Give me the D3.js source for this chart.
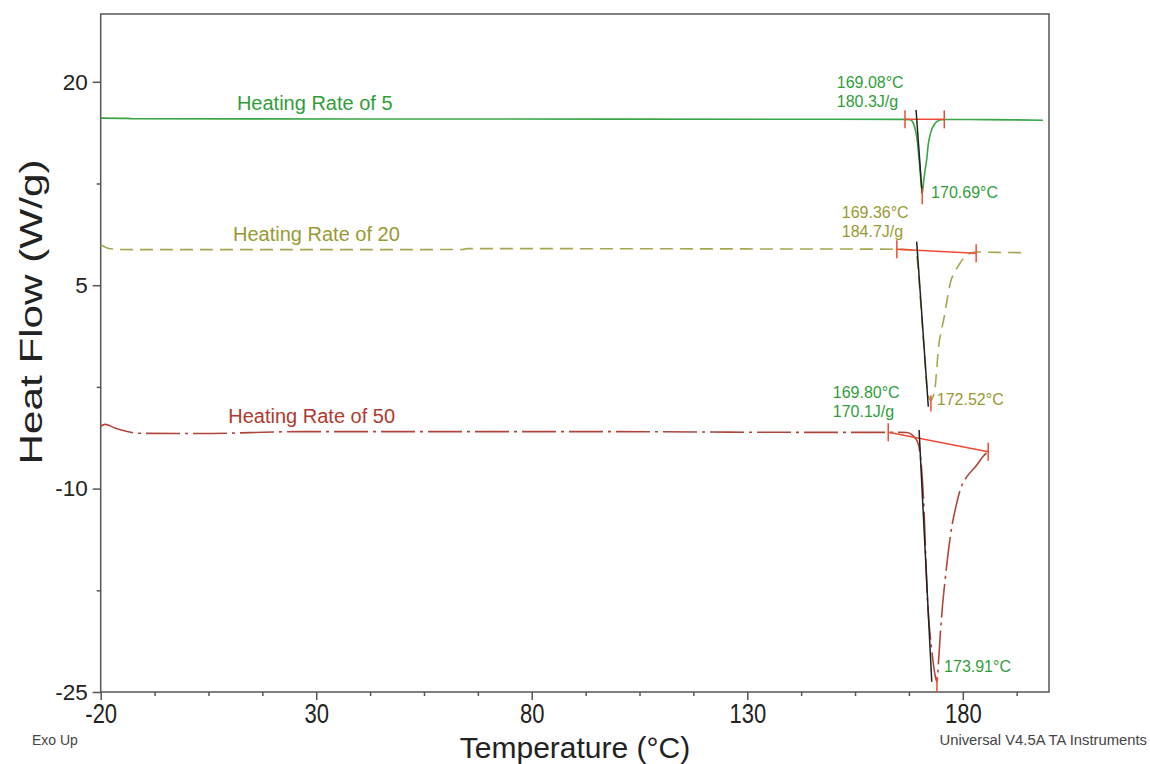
<!DOCTYPE html>
<html>
<head>
<meta charset="utf-8">
<script src="https://cdn.jsdelivr.net/npm/d3@7"></script>
<style>
    body { margin: 0; background: #fff; }
    text { font-family: "Liberation Sans", Arial, sans-serif; }
</style>
</head>
<body>
<svg id="chart"></svg>
<script>
// DSC curves: [temperature °C, heat flow W/g]
const rate5 = [
    [-20, 17.32], [-14, 17.30], [-12, 17.27], [40, 17.26], [100, 17.25], [150, 17.24],
    [166, 17.23], [167.8, 17.2], [168.6, 16.9], [169.1, 16.3], [169.5, 15.5], [170.0, 13.8],
    [170.4, 12.3], [170.6, 11.78], [170.9, 12.6], [171.3, 13.6], [171.6, 14.2], [172.0, 15.4],
    [172.6, 16.3], [173.6, 16.94], [174.7, 17.18], [176, 17.22], [185, 17.21], [198.6, 17.17]
]
const rate20 = [
    [-20, 7.96], [-18.5, 7.75], [-16, 7.64], [-10, 7.62], [20, 7.62], [64, 7.63], [65, 7.7],
    [100, 7.69], [140, 7.67], [160, 7.66], [166, 7.64], [168, 7.6], [168.8, 7.45], [169.3, 7.2],
    [169.8, 5.5], [170.3, 3.4], [170.8, 1.2], [171.3, -1.0], [171.8, -2.8], [172.3, -3.4],
    [172.6, -3.5], [173.0, -3.3], [173.6, -2.48], [174.0, -1.0], [174.3, 0.22], [175.0, 1.6],
    [175.7, 2.68], [176.4, 4.0], [177.1, 5.16], [178.2, 6.0], [179.4, 6.64], [180.9, 7.23],
    [183.1, 7.45], [188, 7.42], [194.8, 7.4]
]
const rate50 = [
    [-20, -5.38], [-19.0, -5.26], [-16.7, -5.53], [-10.9, -5.92], [3, -5.94], [26.2, -5.8],
    [95.9, -5.8], [142.3, -5.85], [162.7, -5.85], [167.0, -5.86], [168.3, -6.05], [169.6, -6.64],
    [170.9, -10.84], [171.8, -18.2], [172.8, -21.9], [173.6, -23.8], [174.0, -24.24],
    [174.4, -22.6], [174.8, -20.65], [175.3, -18.6], [175.9, -16.74], [176.7, -14.5],
    [177.6, -12.54], [178.5, -11.2], [179.4, -10.1], [181.0, -9.1], [182.9, -8.41],
    [184.8, -7.6], [185.5, -7.36]
]

// analysis marks per curve: onset tangent, integration limits, peak
const onsetLines = [
    [[169.16, 17.92], [170.55, 11.8]],
    [[169.3, 8.21], [172.0, -3.96]],
    [[169.86, -5.68], [172.8, -24.24]]
]
const limitLines = [
    [[166.6, 17.23], [175.7, 17.23]],
    [[164.7, 7.65], [183.1, 7.35]],
    [[162.7, -5.85], [185.9, -7.28]]
]
const peaks = [[170.6, 11.78], [172.6, -3.5], [174.0, -24.24]]

const seriesNames = ['Heating Rate of 5', 'Heating Rate of 20', 'Heating Rate of 50']
const nameAt = [[11.6, 17.92], [10.7, 8.26], [9.6, -5.18]]
const onsetText = [['169.08°C', '180.3J/g'], ['169.36°C', '184.7J/g'], ['169.80°C', '170.1J/g']]
const onsetAt = [[150.77, 19.54], [151.93, 9.93], [149.84, -3.34]]
const peakText = ['170.69°C', '172.52°C', '173.91°C']
const peakAt = [[172.65, 11.41], [173.97, -3.83], [175.66, -23.54]]

const xMajor = [-20, 30, 80, 130, 180]
const yMajor = [20, 5, -10, -25]

const W = 1150, H = 764
const m = { left: 100.7, right: 101, top: 14, bottom: 72 }

const svg = d3.select('#chart').attr('width', W).attr('height', H)

const x = d3.scaleLinear().domain([-20, 200]).range([m.left, W - m.right])
const y = d3.scaleLinear().domain([-25, 25]).range([H - m.bottom, m.top])

const curveColor = ['#3aa545', '#a6a650', '#b0453c']
const textColor = ['#2f9e3a', '#999933', '#b03a30']
const annoColor = ['#2f9e3a', '#999933', '#2f9e3a']
const peakColor = ['#2f9e3a', '#999933', '#2f9e3a']
const dashes = [null, '13,7', '34,5,3,5']

// frame
svg.append('rect')
    .attr('x', x(-20)).attr('y', y(25))
    .attr('width', x(200) - x(-20)).attr('height', y(-25) - y(25))
    .attr('fill', 'none').attr('stroke', '#555').attr('stroke-width', 1.5)

// axes
const xAxis = d3.axisBottom(x)
    .tickValues(d3.range(-20, 200, 12.5))
    .tickSizeOuter(0)
    .tickFormat(d => xMajor.includes(d) ? d : '')
const gx = svg.append('g').attr('transform', `translate(0,${y(-25)})`).call(xAxis)
gx.select('.domain').remove()
gx.selectAll('.tick line')
    .attr('y2', d => xMajor.includes(d) ? 8 : 4)
    .attr('stroke', '#555').attr('stroke-width', 1.5)
gx.selectAll('.tick text')
    .attr('font-size', 22).attr('fill', '#222')
    .attr('y', 8.7)
    .attr('transform', 'scale(1,1.27)')

const yAxis = d3.axisLeft(y)
    .tickValues(d3.range(-25, 25, 7.5))
    .tickSizeOuter(0)
    .tickFormat(d => yMajor.includes(d) ? d : '')
const gy = svg.append('g').attr('transform', `translate(${x(-20)},0)`).call(yAxis)
gy.select('.domain').remove()
gy.selectAll('.tick line')
    .attr('x2', d => yMajor.includes(d) ? -8 : -4)
    .attr('stroke', '#555').attr('stroke-width', 1.5)
gy.selectAll('.tick text')
    .attr('font-size', 22.5).attr('fill', '#222')
    .attr('x', -13)

// axis titles
svg.append('text')
    .attr('x', 575).attr('y', 758)
    .attr('text-anchor', 'middle')
    .attr('font-size', 30).attr('fill', '#222')
    .text('Temperature (°C)')

svg.append('text')
    .attr('transform', 'translate(42,312) rotate(-90)')
    .attr('text-anchor', 'middle')
    .attr('font-size', 31).attr('fill', '#222')
    .attr('textLength', 305).attr('lengthAdjust', 'spacingAndGlyphs')
    .text('Heat Flow (W/g)')

svg.append('text')
    .attr('x', 32).attr('y', 745)
    .attr('font-size', 14).attr('fill', '#444')
    .text('Exo Up')

svg.append('text')
    .attr('x', 1147).attr('y', 745)
    .attr('text-anchor', 'end')
    .attr('font-size', 14.8).attr('fill', '#444')
    .text('Universal V4.5A TA Instruments')

// curves
const line = d3.line()
    .x(d => x(d[0]))
    .y(d => y(d[1]))
    .curve(d3.curveMonotoneX)
const straight = d3.line().x(d => x(d[0])).y(d => y(d[1]))

const curves = [rate5, rate20, rate50]
curves.forEach((c, i) => {
    svg.append('path')
        .datum(c)
        .attr('d', line)
        .attr('fill', 'none')
        .attr('stroke', curveColor[i])
        .attr('stroke-width', 1.6)
        .attr('stroke-dasharray', dashes[i])
})

const red = '#f04a35'
limitLines.forEach(l => {
    svg.append('path').datum(l).attr('d', straight)
        .attr('fill', 'none').attr('stroke', red).attr('stroke-width', 1.5)
    l.forEach(p => {
        svg.append('line')
            .attr('x1', x(p[0])).attr('x2', x(p[0]))
            .attr('y1', y(p[1]) - 9).attr('y2', y(p[1]) + 9)
            .attr('stroke', red).attr('stroke-width', 1.5)
    })
})

onsetLines.forEach(l => {
    svg.append('path').datum(l).attr('d', straight)
        .attr('fill', 'none').attr('stroke', '#222').attr('stroke-width', 1.5)
})

peaks.forEach(p => {
    svg.append('line')
        .attr('x1', x(p[0])).attr('x2', x(p[0]))
        .attr('y1', y(p[1]) - 5).attr('y2', y(p[1]) + 11)
        .attr('stroke', red).attr('stroke-width', 1.5)
})

// labels
seriesNames.forEach((s, i) => {
    svg.append('text')
        .attr('x', x(nameAt[i][0])).attr('y', y(nameAt[i][1]))
        .attr('font-size', 20).attr('fill', textColor[i])
        .text(s)
})

onsetText.forEach((t, i) => {
    const g = svg.append('text')
        .attr('x', x(onsetAt[i][0])).attr('y', y(onsetAt[i][1]))
        .attr('font-size', 16).attr('fill', annoColor[i])
    g.append('tspan').text(t[0])
    g.append('tspan').attr('x', x(onsetAt[i][0])).attr('dy', 19).text(t[1])
})

peakText.forEach((t, i) => {
    svg.append('text')
        .attr('x', x(peakAt[i][0])).attr('y', y(peakAt[i][1]))
        .attr('font-size', 16).attr('fill', peakColor[i])
        .text(t)
})
</script>
</body>
</html>
